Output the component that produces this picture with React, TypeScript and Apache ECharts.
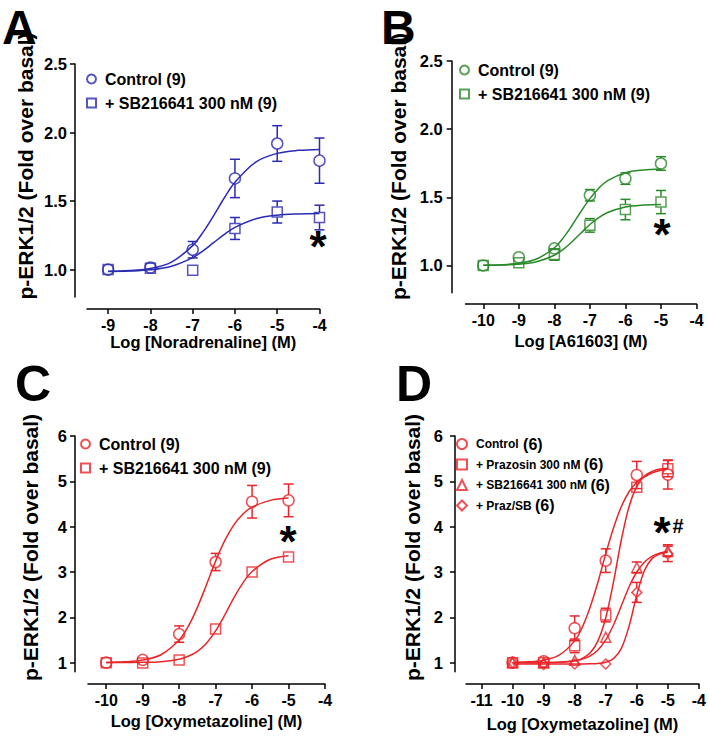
import React, { useEffect, useRef } from 'react';
import * as echarts from 'echarts';

const FONT = '"Liberation Sans", Arial, sans-serif';
const BLUE = '#2a2ab2';
const GREEN = '#2a8a2a';
const RED = '#e8262a';

// ---------- Panel A (Noradrenaline) ----------
const xA = [-9, -8, -7, -6, -5, -4];
const ctrlA = [1.0, 1.015, 1.145, 1.665, 1.92, 1.795];
const ctrlAErr = [0.01, 0.015, 0.06, 0.14, 0.13, 0.165];
const sbA = [1.0, 1.01, 0.995, 1.30, 1.42, 1.38];
const sbAErr = [0.01, 0.01, 0.02, 0.08, 0.08, 0.09];
const fitXA = [-9, -8.5, -8, -7.5, -7, -6.75, -6.5, -6.25, -6, -5.5, -5, -4.5, -4];
const ctrlAFit = [0.987, 0.993, 1.008, 1.055, 1.175, 1.275, 1.396, 1.524, 1.637, 1.786, 1.848, 1.87, 1.877];
const sbAFit = [0.986, 0.989, 0.998, 1.024, 1.087, 1.138, 1.198, 1.257, 1.308, 1.371, 1.397, 1.406, 1.409];
const xTicksA = [-9, -8, -7, -6, -5, -4];
const yTicksAB = [1.0, 1.5, 2.0, 2.5];

// ---------- Panel B (A61603) ----------
const xB = [-10, -9, -8, -7, -6, -5];
const ctrlB = [1.0, 1.06, 1.125, 1.515, 1.637, 1.748];
const ctrlBErr = [0.01, 0.02, 0.03, 0.042, 0.042, 0.05];
const sbB = [1.0, 1.02, 1.08, 1.294, 1.41, 1.465];
const sbBErr = [0.01, 0.015, 0.042, 0.05, 0.075, 0.085];
const fitXB = [-10, -9.5, -9, -8.5, -8, -7.75, -7.5, -7.25, -7, -6.75, -6.5, -6, -5.5, -5];
const ctrlBFit = [1.002, 1.005, 1.016, 1.047, 1.13, 1.202, 1.295, 1.396, 1.49, 1.567, 1.622, 1.68, 1.7, 1.707];
const sbBFit = [1.001, 1.003, 1.009, 1.027, 1.075, 1.118, 1.174, 1.238, 1.3, 1.351, 1.388, 1.428, 1.443, 1.448];
const xTicksBC = [-10, -9, -8, -7, -6, -5, -4];

// ---------- Panel C (Oxymetazoline) ----------
const xC = [-10, -9, -8, -7, -6, -5];
const ctrlC = [1.0, 1.06, 1.63, 3.22, 4.55, 4.58];
const ctrlCErr = [0.02, 0.03, 0.18, 0.19, 0.36, 0.36];
const sbC = [1.0, 0.99, 1.06, 1.74, 3.0, 3.33];
const sbCErr = [0.02, 0.02, 0.04, 0.05, 0.06, 0.06];
const fitXC = [-10, -9.5, -9, -8.5, -8, -7.75, -7.5, -7.25, -7, -6.75, -6.5, -6.25, -6, -5.5, -5];
const ctrlCFit = [1.006, 1.018, 1.057, 1.174, 1.5, 1.8, 2.22, 2.72, 3.24, 3.69, 4.04, 4.28, 4.43, 4.58, 4.63];
const sbCFit = [1.0, 1.003, 1.006, 1.022, 1.076, 1.14, 1.25, 1.43, 1.7, 2.05, 2.43, 2.76, 3.01, 3.28, 3.36];
const yTicksCD = [1, 2, 3, 4, 5, 6];

// ---------- Panel D (Oxymetazoline, antagonists) ----------
const xD = [-10, -9, -8, -7, -6, -5];
const ctrlD = [1.0, 1.03, 1.76, 3.25, 5.14, 5.15];
const ctrlDErr = [0.02, 0.03, 0.27, 0.26, 0.3, 0.32];
const prazD = [1.0, 1.0, 1.37, 2.05, 4.87, 5.28];
const prazDErr = [0.02, 0.02, 0.15, 0.15, 0.1, 0.18];
const sbD = [1.0, 1.0, 1.05, 1.56, 3.1, 3.47];
const sbDErr = [0.01, 0.01, 0.03, 0.05, 0.12, 0.13];
const psD = [1.0, 0.96, 0.97, 0.97, 2.55, 3.4];
const psDErr = [0.01, 0.01, 0.01, 0.01, 0.22, 0.17];
const fitXD = [-10, -9.5, -9, -8.5, -8, -7.75, -7.5, -7.25, -7, -6.75, -6.5, -6.25, -6, -5.75, -5.5, -5.25, -5];
const ctrlDFit = [1.005, 1.017, 1.054, 1.165, 1.48, 1.79, 2.23, 2.78, 3.4, 3.97, 4.44, 4.77, 4.98, 5.1, 5.19, 5.24, 5.27];
const prazDFit = [1.0, 1.0, 1.001, 1.007, 1.04, 1.094, 1.217, 1.48, 1.99, 2.78, 3.7, 4.44, 4.89, 5.12, 5.22, 5.27, 5.29];
const sbDFit = [1.0, 1.001, 1.003, 1.01, 1.04, 1.077, 1.149, 1.28, 1.5, 1.83, 2.25, 2.67, 3.0, 3.22, 3.35, 3.42, 3.46];
const psDFit = [0.97, 0.97, 0.97, 0.97, 0.97, 0.971, 0.974, 0.982, 1.01, 1.088, 1.31, 1.8, 2.49, 3.04, 3.3, 3.4, 3.435];
const xTicksD = [-11, -10, -9, -8, -7, -6, -5, -4];

const LABELS: Record<string, string> = {
  A0: 'Control (9)',
  A1: '+ SB216641 300 nM (9)',
  B0: 'Control (9)',
  B1: '+ SB216641 300 nM (9)',
  C0: 'Control (9)',
  C1: '+ SB216641 300 nM (9)',
  D0: '{s|Control} {b|(6)}',
  D1: '{s|+ Prazosin 300 nM }{b|(6)}',
  D2: '{s|+ SB216641 300 nM }{b|(6)}',
  D3: '{s|+ Praz/SB }{b|(6)}',
};

const MR = 5.5; // marker radius in px

function errSeries(g: number, xs: number[], ys: number[], es: number[], color: string) {
  return {
    type: 'custom',
    xAxisIndex: g,
    yAxisIndex: g,
    z: 3,
    silent: true,
    encode: { x: 0, y: 1 },
    data: xs.map((x, i) => [x, ys[i], es[i]]),
    renderItem: (_p: any, api: any) => {
      const x = api.value(0);
      const y = api.value(1);
      const e = api.value(2);
      const c = api.coord([x, y]);
      const t = api.coord([x, y + e]);
      const b = api.coord([x, y - e]);
      const st = { stroke: color, lineWidth: 1.5, fill: null };
      const h = 5;
      const children: any[] = [];
      if (c[1] - t[1] > MR - 0.5) {
        children.push({ type: 'line', shape: { x1: c[0], y1: c[1] - MR, x2: t[0], y2: t[1] }, style: st });
        children.push({ type: 'line', shape: { x1: t[0] - h, y1: t[1], x2: t[0] + h, y2: t[1] }, style: st });
      }
      if (b[1] - c[1] > MR - 0.5) {
        children.push({ type: 'line', shape: { x1: c[0], y1: c[1] + MR, x2: b[0], y2: b[1] }, style: st });
        children.push({ type: 'line', shape: { x1: b[0] - h, y1: b[1], x2: b[0] + h, y2: b[1] }, style: st });
      }
      return { type: 'group', children };
    },
  };
}

function fitSeries(g: number, xs: number[], ys: number[], color: string) {
  return {
    type: 'line',
    xAxisIndex: g,
    yAxisIndex: g,
    z: 2,
    silent: true,
    smooth: 0.35,
    showSymbol: false,
    lineStyle: { color, width: 1.5 },
    data: xs.map((x, i) => [x, ys[i]]),
  };
}

function ptSeries(g: number, name: string, symbol: string, xs: number[], ys: number[], color: string, size = 11) {
  return {
    type: 'scatter',
    name,
    xAxisIndex: g,
    yAxisIndex: g,
    z: 4,
    symbol,
    symbolSize: size,
    itemStyle: { color: 'transparent', borderColor: color, borderWidth: 1.5 },
    data: xs.map((x, i) => [x, ys[i]]),
  };
}

const axisBase = {
  axisLine: { show: true, onZero: false, lineStyle: { color: '#000', width: 1.5 } },
  axisTick: { show: true, length: 5, lineStyle: { color: '#000', width: 1.5 } },
  splitLine: { show: false },
};

function xAxisCfg(g: number, min: number, ticks: number[], name: string, offset: number, nameGap: number) {
  return {
    type: 'value',
    gridIndex: g,
    min,
    max: -4,
    offset,
    name,
    nameLocation: 'middle',
    nameGap,
    nameTextStyle: { fontFamily: FONT, fontWeight: 'bold', fontSize: 16.5, color: '#000' },
    ...axisBase,
    axisTick: { ...axisBase.axisTick, customValues: ticks },
    axisLabel: {
      customValues: ticks,
      margin: 8,
      fontFamily: FONT,
      fontWeight: 'bold',
      fontSize: 16,
      color: '#000',
      formatter: (v: number) => String(v),
    },
  };
}

function yAxisCfg(g: number, max: number, ticks: number[], offset: number, dec: number, margin: number) {
  return {
    type: 'value',
    gridIndex: g,
    min: 0.8,
    max,
    offset,
    ...axisBase,
    axisTick: { ...axisBase.axisTick, customValues: ticks },
    axisLabel: {
      customValues: ticks,
      margin,
      fontFamily: FONT,
      fontWeight: 'bold',
      fontSize: 16.5,
      color: '#000',
      formatter: (v: number) => v.toFixed(dec),
    },
  };
}

function legendCfg(left: number, top: number, names: string[], gap: number, rich: boolean, iconSize: number) {
  return {
    left,
    top,
    orient: 'vertical',
    itemGap: gap,
    itemWidth: iconSize,
    itemHeight: iconSize,
    selectedMode: false,
    data: names,
    formatter: (n: string) => LABELS[n],
    textStyle: {
      fontFamily: FONT,
      fontWeight: 'bold',
      fontSize: 16,
      color: '#000',
      padding: [0, 0, 0, 4],
      ...(rich
        ? {
            rich: {
              s: { fontFamily: FONT, fontWeight: 'bold', fontSize: 12, color: '#000' },
              b: { fontFamily: FONT, fontWeight: 'bold', fontSize: 16, color: '#000' },
            },
          }
        : {}),
    },
  };
}

function letter(text: string, x: number, y: number, size: number) {
  return {
    type: 'text',
    x,
    y,
    style: { text, fill: '#000', font: `bold ${size}px ${FONT}`, align: 'left', verticalAlign: 'top' },
  };
}

function yTitle(x: number, y: number) {
  return {
    type: 'text',
    x,
    y,
    rotation: Math.PI / 2,
    style: {
      text: 'p-ERK1/2 (Fold over basal)',
      fill: '#000',
      font: `bold 21px ${FONT}`,
      align: 'center',
      verticalAlign: 'middle',
    },
  };
}

function star(text: string, x: number, y: number, size: number) {
  return {
    type: 'text',
    x,
    y,
    style: { text, fill: '#000', font: `bold ${size}px ${FONT}`, align: 'center', verticalAlign: 'middle' },
  };
}

export default function App() {
  const ref = useRef<HTMLDivElement>(null);
  useEffect(() => {
    if (!ref.current) return;
    const chart = echarts.init(ref.current, null, { renderer: 'svg' });
    const option: any = {
      animation: false,
      backgroundColor: '#fff',
      grid: [
        { left: 87, top: 64, width: 232.5, height: 233 },
        { left: 465.5, top: 61, width: 231, height: 231.7 },
        { left: 88, top: 436, width: 237, height: 235.7 },
        { left: 466, top: 436, width: 234.6, height: 235.7 },
      ],
      xAxis: [
        xAxisCfg(0, -9.5, xTicksA, 'Log [Noradrenaline] (M)', 12, 24.5),
        xAxisCfg(1, -10.5, xTicksBC, 'Log [A61603] (M)', 11.3, 28),
        xAxisCfg(2, -10.5, xTicksBC, 'Log [Oxymetazoline] (M)', 12.3, 28.5),
        xAxisCfg(3, -11.5, xTicksD, 'Log [Oxymetazoline] (M)', 12.3, 31),
      ],
      yAxis: [
        yAxisCfg(0, 2.5, yTicksAB, 12, 1, 8),
        yAxisCfg(1, 2.5, yTicksAB, 13.8, 1, 9),
        yAxisCfg(2, 6, yTicksCD, 13, 0, 8),
        yAxisCfg(3, 6, yTicksCD, 11, 0, 12),
      ],
      legend: [
        legendCfg(81, 66, ['A0', 'A1'], 8, false, 9),
        legendCfg(454, 57, ['B0', 'B1'], 8, false, 9),
        legendCfg(75, 431, ['C0', 'C1'], 8, false, 9),
        legendCfg(451, 431, ['D0', 'D1', 'D2', 'D3'], 4.5, true, 10),
      ],
      series: [
        fitSeries(0, fitXA, ctrlAFit, BLUE),
        fitSeries(0, fitXA, sbAFit, BLUE),
        errSeries(0, xA, ctrlA, ctrlAErr, BLUE),
        errSeries(0, xA, sbA, sbAErr, BLUE),
        ptSeries(0, 'A0', 'circle', xA, ctrlA, BLUE),
        ptSeries(0, 'A1', 'rect', xA, sbA, BLUE, 10),

        fitSeries(1, fitXB, ctrlBFit, GREEN),
        fitSeries(1, fitXB, sbBFit, GREEN),
        errSeries(1, xB, ctrlB, ctrlBErr, GREEN),
        errSeries(1, xB, sbB, sbBErr, GREEN),
        ptSeries(1, 'B0', 'circle', xB, ctrlB, GREEN),
        ptSeries(1, 'B1', 'rect', xB, sbB, GREEN, 10),

        fitSeries(2, fitXC, ctrlCFit, RED),
        fitSeries(2, fitXC, sbCFit, RED),
        errSeries(2, xC, ctrlC, ctrlCErr, RED),
        errSeries(2, xC, sbC, sbCErr, RED),
        ptSeries(2, 'C0', 'circle', xC, ctrlC, RED),
        ptSeries(2, 'C1', 'rect', xC, sbC, RED, 10),

        fitSeries(3, fitXD, ctrlDFit, RED),
        fitSeries(3, fitXD, prazDFit, RED),
        fitSeries(3, fitXD, sbDFit, RED),
        fitSeries(3, fitXD, psDFit, RED),
        errSeries(3, xD, ctrlD, ctrlDErr, RED),
        errSeries(3, xD, prazD, prazDErr, RED),
        errSeries(3, xD, sbD, sbDErr, RED),
        errSeries(3, xD, psD, psDErr, RED),
        ptSeries(3, 'D0', 'circle', xD, ctrlD, RED),
        ptSeries(3, 'D1', 'rect', xD, prazD, RED, 10),
        ptSeries(3, 'D2', 'triangle', xD, sbD, RED, 10),
        ptSeries(3, 'D3', 'diamond', xD, psD, RED, 10),
      ],
      graphic: [
        letter('A', 2, 3, 48),
        letter('B', 381, 3, 48),
        letter('C', 15, 359, 50),
        letter('D', 396, 359, 50),
        yTitle(25, 166),
        yTitle(398, 166.5),
        yTitle(30, 547.5),
        yTitle(412, 547.5),
        star('*', 318, 246, 44),
        star('*', 662, 234, 44),
        star('*', 288, 541, 44),
        star('*', 662, 532, 44),
        star('#', 678, 526, 20),
      ],
    };
    chart.setOption(option);
    return () => chart.dispose();
  }, []);
  return <div ref={ref} style={{ position: 'absolute', left: 0, top: 0, width: 709, height: 736 }} />;
}
